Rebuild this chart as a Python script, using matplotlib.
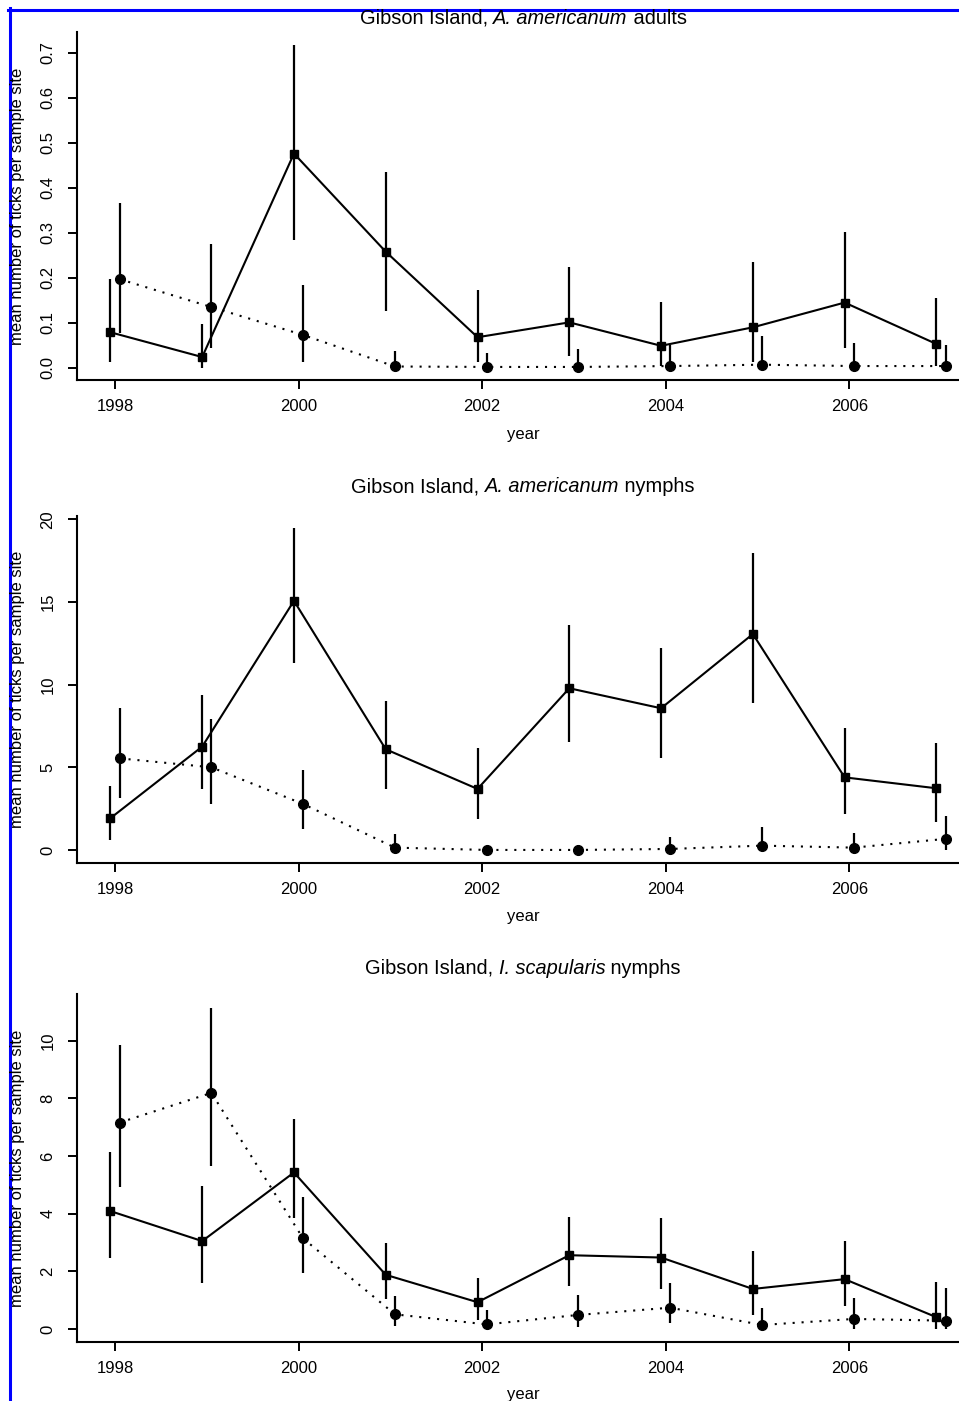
import matplotlib
matplotlib.use("Agg")
import matplotlib.pyplot as plt
from matplotlib.lines import Line2D

plt.rcParams['font.family'] = ['Liberation Sans', 'DejaVu Sans']

years = [1998, 1999, 2000, 2001, 2002, 2003, 2004, 2005, 2006, 2007]

# A. americanum adults
adults_sq = [0.079, 0.024, 0.476, 0.258, 0.068, 0.101, 0.049, 0.090, 0.145, 0.053]
adults_sq_lo = [0.014, 0.0, 0.284, 0.127, 0.012, 0.027, 0.003, 0.013, 0.045, 0.003]
adults_sq_hi = [0.197, 0.097, 0.718, 0.435, 0.173, 0.225, 0.146, 0.234, 0.302, 0.156]
adults_ci = [0.197, 0.135, 0.073, 0.003, 0.002, 0.002, 0.004, 0.007, 0.004, 0.004]
adults_ci_lo = [0.077, 0.044, 0.013, 0.0, 0.0, 0.0, 0.0, 0.0, 0.0, 0.0]
adults_ci_hi = [0.367, 0.276, 0.183, 0.038, 0.033, 0.042, 0.051, 0.070, 0.055, 0.051]

# A. americanum nymphs
amnym_sq = [1.92, 6.25, 15.07, 6.09, 3.69, 9.78, 8.57, 13.06, 4.39, 3.73]
amnym_sq_lo = [0.60, 3.69, 11.29, 3.69, 1.85, 6.55, 5.54, 8.91, 2.16, 1.71]
amnym_sq_hi = [3.87, 9.37, 19.45, 9.03, 6.15, 13.60, 12.23, 17.98, 7.36, 6.45]
amnym_ci = [5.54, 5.00, 2.78, 0.14, 0.0, 0.0, 0.06, 0.26, 0.14, 0.67]
amnym_ci_lo = [3.12, 2.76, 1.25, 0.0, 0.0, 0.0, 0.0, 0.0, 0.0, 0.0]
amnym_ci_hi = [8.60, 7.90, 4.84, 0.97, 0.05, 0.30, 0.81, 1.41, 1.05, 2.06]

# I. scapularis nymphs
isnym_sq = [4.09, 3.05, 5.43, 1.88, 0.93, 2.56, 2.48, 1.39, 1.73, 0.41]
isnym_sq_lo = [2.45, 1.59, 3.84, 1.05, 0.32, 1.49, 1.39, 0.49, 0.80, 0.0]
isnym_sq_hi = [6.15, 4.96, 7.27, 2.97, 1.76, 3.89, 3.86, 2.70, 3.05, 1.64]
isnym_ci = [7.16, 8.19, 3.14, 0.51, 0.16, 0.49, 0.74, 0.14, 0.35, 0.29]
isnym_ci_lo = [4.93, 5.65, 1.96, 0.10, 0.0, 0.08, 0.20, 0.0, 0.0, 0.0]
isnym_ci_hi = [9.84, 11.15, 4.58, 1.15, 0.66, 1.18, 1.58, 0.72, 1.06, 1.41]

panels = [
    ("A. americanum", " adults",
     adults_sq, adults_sq_lo, adults_sq_hi, adults_ci, adults_ci_lo, adults_ci_hi,
     [0.0, 0.1, 0.2, 0.3, 0.4, 0.5, 0.6, 0.7], ["0.0", "0.1", "0.2", "0.3", "0.4", "0.5", "0.6", "0.7"],
     (-0.027, 0.746)),
    ("A. americanum", " nymphs",
     amnym_sq, amnym_sq_lo, amnym_sq_hi, amnym_ci, amnym_ci_lo, amnym_ci_hi,
     [0, 5, 10, 15, 20], ["0", "5", "10", "15", "20"],
     (-0.79, 20.2)),
    ("I. scapularis", " nymphs",
     isnym_sq, isnym_sq_lo, isnym_sq_hi, isnym_ci, isnym_ci_lo, isnym_ci_hi,
     [0, 2, 4, 6, 8, 10], ["0", "2", "4", "6", "8", "10"],
     (-0.45, 11.62)),
]

W, H = 959, 1401
fig = plt.figure(figsize=(W / 100, H / 100), dpi=100)
renderer = fig.canvas.get_renderer()

# pixel layout: (top, bottom) of each plot region, title y, xlabel y
boxes = [(32, 380, 18, 434), (516, 863, 487, 917), (994, 1342, 968, 1395)]
left_px, width_px = 77, 902
xlim = (1997.586, 2007.414)
off = 0.05
title_fs = 14.4
fs = 12


def mixed_title(cx, cy, pieces):
    # measure each piece, then lay them out centred on cx
    widths = []
    for txt, style in pieces:
        t = fig.text(0, 0, txt, fontsize=title_fs, style=style)
        widths.append(t.get_window_extent(renderer).width)
        t.remove()
    x = cx - sum(widths) / 2
    for (txt, style), w in zip(pieces, widths):
        fig.text(x / W, 1 - cy / H, txt, fontsize=title_fs, style=style, ha='left', va='center')
        x += w


for (species, stage, sq, sq_lo, sq_hi, ci, ci_lo, ci_hi, yt, ytl, ylim), (top, bot, ty, xly) in zip(panels, boxes):
    ax = fig.add_axes([left_px / W, 1 - bot / H, width_px / W, (bot - top) / H])
    xs = [y - off for y in years]
    xc = [y + off for y in years]

    ax.vlines(xs, sq_lo, sq_hi, color='black', lw=1.6)
    ax.vlines(xc, ci_lo, ci_hi, color='black', lw=1.6)
    ax.plot(xs, sq, color='black', lw=1.5, marker='s', ms=5.4)
    ax.plot(xc, ci, color='black', lw=1.5, ls=(0, (1, 3.3)), marker='o', ms=7)

    ax.set_xlim(*xlim)
    ax.set_ylim(*ylim)
    ax.set_xticks([1998, 2000, 2002, 2004, 2006])
    ax.set_yticks(yt)
    ax.set_yticklabels(ytl, rotation=90, va='center')
    ax.tick_params(axis='both', direction='out', length=6.5, width=1.4, labelsize=fs)
    ax.tick_params(axis='y', pad=9)
    ax.tick_params(axis='x', pad=7.5)
    for s in ['top', 'right']:
        ax.spines[s].set_visible(False)
    for s in ['left', 'bottom']:
        ax.spines[s].set_linewidth(1.5)
    ax.patch.set_alpha(0)

    mixed_title(523, ty, [("Gibson Island, ", 'normal'), (species, 'italic'), (stage, 'normal')])
    fig.text(523 / W, 1 - xly / H, "year", ha='center', va='center', fontsize=fs)
    fig.text(18 / W, 1 - (top + bot) / 2 / H, "mean number of ticks per sample site",
             rotation=90, ha='center', va='center', fontsize=fs)

# blue frame on left and top edges
fig.add_artist(Line2D([9.5 / W, 9.5 / W], [0, 1 - 8 / H], transform=fig.transFigure, color='#0000ff', lw=2.2))
fig.add_artist(Line2D([8 / W, 1], [1 - 9.5 / H, 1 - 9.5 / H], transform=fig.transFigure, color='#0000ff', lw=2.2))

fig.savefig("out.png", dpi=100)
